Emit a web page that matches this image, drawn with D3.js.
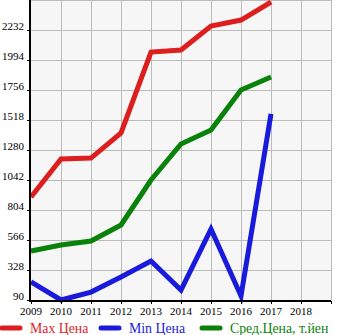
<!DOCTYPE html>
<html><head><meta charset="utf-8">
<script src="https://cdn.jsdelivr.net/npm/d3@7"></script>
<style>body{margin:0;background:#fff}svg{display:block}text{font-family:"Liberation Serif",serif}</style>
</head><body>
<svg id="c" width="345" height="335"></svg>
<script>
const years = [2009,2010,2011,2012,2013,2014,2015,2016,2017];
const xTicks = [2009,2010,2011,2012,2013,2014,2015,2016,2017,2018];
const yTicks = [90,328,566,804,1042,1280,1518,1756,1994,2232];
const maxPrice = [907,1209,1216,1415,2057,2073,2264,2311,2454];
const minPrice = [233,90,153,272,399,169,653,122,1566];
const avgPrice = [479,526,558,685,1042,1328,1439,1756,1859];
const seriesNames = ["Max Цена","Min Цена","Сред.Цена, т.йен"];
const colors = ["#dd1e1e","#1a1adc","#0a820a"];

const svg = d3.select("#c");
const x = d3.scaleLinear().domain([2009,2019]).range([31,331]);
const y = d3.scaleLinear().domain([90,2470]).range([300,0]);

svg.append("rect").attr("x",31).attr("y",0).attr("width",300).attr("height",300).attr("fill","#f6f6f6");
const g = svg.append("g");
xTicks.concat([2019]).forEach(t=>{ if(t>2009) g.append("line").attr("x1",x(t)).attr("x2",x(t)).attr("y1",0).attr("y2",300).attr("stroke","#bbb").attr("stroke-width",1).attr("shape-rendering","crispEdges");});
yTicks.concat([2470]).forEach(t=>{ if(t>90) g.append("line").attr("x1",31).attr("x2",331).attr("y1",y(t)+0.5).attr("y2",y(t)+0.5).attr("stroke","#bbb").attr("stroke-width",1).attr("shape-rendering","crispEdges");});

const line = d3.line().x((d,i)=>x(years[i])).y(d=>y(d));
[[maxPrice,0],[minPrice,1],[avgPrice,2]].forEach(([data,ci])=>{
  svg.append("path").attr("d",line(data)).attr("fill","none").attr("stroke",colors[ci]).attr("stroke-width",5).attr("stroke-linejoin","miter").attr("stroke-linecap","butt");
});

// axes
svg.append("line").attr("x1",30).attr("x2",30).attr("y1",0).attr("y2",302).attr("stroke","#000").attr("stroke-width",2);
svg.append("line").attr("x1",29).attr("x2",331).attr("y1",301).attr("y2",301).attr("stroke","#000").attr("stroke-width",2);
yTicks.forEach(t=>{
  svg.append("line").attr("x1",27).attr("x2",30).attr("y1",y(t)+0.5).attr("y2",y(t)+0.5).attr("stroke","#000");
  svg.append("text").attr("x",24).attr("y",y(t)-0.5).attr("text-anchor","end").attr("font-size",11).attr("fill","#000").text(t);
});
xTicks.concat([2019]).forEach(t=>{
  svg.append("line").attr("x1",x(t)+0.5).attr("x2",x(t)+0.5).attr("y1",301).attr("y2",304).attr("stroke","#000");
});
xTicks.forEach(t=>{
  svg.append("text").attr("x",x(t)).attr("y",315).attr("text-anchor","middle").attr("font-size",11).attr("fill","#000").text(t);
});

// legend
const lx = [0,99,200];
seriesNames.forEach((n,i)=>{
  svg.append("line").attr("x1",lx[i]+2).attr("x2",lx[i]+20).attr("y1",328).attr("y2",328).attr("stroke",colors[i]).attr("stroke-width",5).attr("stroke-linecap","round");
  svg.append("text").attr("x",lx[i]+30).attr("y",333).attr("font-size",13.8).attr("fill",colors[i]).text(n);
});
</script>
</body></html>
